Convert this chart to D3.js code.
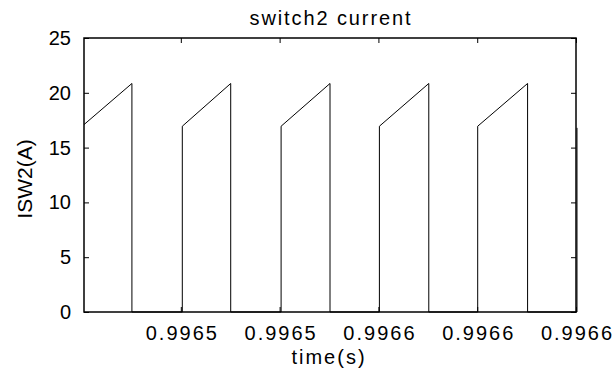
<!DOCTYPE html>
<html>
<head>
<meta charset="utf-8">
<script src="https://cdn.jsdelivr.net/npm/d3@7"></script>
<style>
  html, body { margin: 0; padding: 0; background: #fff; }
  svg { display: block; }
  text { font-family: "Liberation Sans", Arial, sans-serif; fill: #000; }
</style>
</head>
<body>
<svg id="chart" width="614" height="379"></svg>
<script>
// switch current samples (time in s, current in A)
const time = [0.9965004, 0.9965101, 0.9965101, 0.9965203, 0.9965203, 0.9965301, 0.9965301,
  0.9965403, 0.9965403, 0.9965502, 0.9965502, 0.9965602, 0.9965602, 0.9965702, 0.9965702,
  0.9965801, 0.9965801, 0.9965902, 0.9965902, 0.9966002, 0.9966002];
const current = [17.1, 20.85, 0, 0, 16.95, 20.85, 0, 0, 16.95, 20.85, 0, 0, 16.95, 20.85, 0,
  0, 16.95, 20.85, 0, 0, 16.8];

const xTicks = [0.99652, 0.99654, 0.99656, 0.99658, 0.9966];
const xTickLabels = ["0.9965", "0.9965", "0.9966", "0.9966", "0.9966"];
const yTicks = [0, 5, 10, 15, 20, 25];

const plotL = 84, plotR = 576, plotT = 38, plotB = 312;

const svg = d3.select('#chart');

const x = d3.scaleLinear().domain([0.9965004, 0.9966]).range([plotL, plotR]);
const y = d3.scaleLinear().domain([0, 25]).range([plotB, plotT]);

// waveform
const line = d3.line()
  .x(function (d) { return x(d[0]); })
  .y(function (d) { return y(d[1]); });

svg.append('path')
  .datum(d3.zip(time, current))
  .attr('d', line)
  .attr('fill', 'none')
  .attr('stroke', '#000')
  .attr('stroke-width', 1);

// ticks on all four sides, pointing inward
const axisB = d3.axisBottom(x).tickValues(xTicks).tickSizeInner(-5).tickSizeOuter(0)
  .tickFormat(function (d, i) { return xTickLabels[i]; }).tickPadding(14);
const axisT = d3.axisTop(x).tickValues(xTicks).tickSizeInner(-5).tickSizeOuter(0).tickFormat('');
const axisL = d3.axisLeft(y).tickValues(yTicks).tickSizeInner(-5).tickSizeOuter(0).tickPadding(13);
const axisR = d3.axisRight(y).tickValues(yTicks).tickSizeInner(-5).tickSizeOuter(0).tickFormat('');

function styleAxis(g) {
  g.select('.domain').remove();
  g.selectAll('line').attr('stroke', '#000').attr('stroke-width', 1);
  g.selectAll('text')
    .style('font-family', '"Liberation Sans", Arial, sans-serif')
    .style('font-size', '20px')
    .attr('fill', '#000');
}

const gB = svg.append('g').attr('transform', `translate(0,${plotB})`).call(axisB).call(styleAxis);
gB.selectAll('text').style('letter-spacing', '2px').attr('dx', 1);
svg.append('g').attr('transform', `translate(0,${plotT})`).call(axisT).call(styleAxis);
svg.append('g').attr('transform', `translate(${plotL},0)`).call(axisL).call(styleAxis);
svg.append('g').attr('transform', `translate(${plotR},0)`).call(axisR).call(styleAxis);

// frame
svg.append('rect')
  .attr('x', plotL).attr('y', plotT)
  .attr('width', plotR - plotL).attr('height', plotB - plotT)
  .attr('fill', 'none')
  .attr('stroke', '#000')
  .attr('stroke-width', 1.5);

// labels
svg.append('text')
  .attr('x', (plotL + plotR) / 2 + 1).attr('y', 25)
  .attr('text-anchor', 'middle')
  .style('font-size', '20px').style('letter-spacing', '1.9px')
  .text('switch2 current');

svg.append('text')
  .attr('x', (plotL + plotR) / 2 - 1).attr('y', 364)
  .attr('text-anchor', 'middle')
  .style('font-size', '20px').style('letter-spacing', '2px')
  .text('time(s)');

svg.append('text')
  .attr('transform', `translate(32,${(plotT + plotB) / 2 + 4}) rotate(-90)`)
  .attr('text-anchor', 'middle')
  .style('font-size', '21px')
  .text('ISW2(A)');
</script>
</body>
</html>
